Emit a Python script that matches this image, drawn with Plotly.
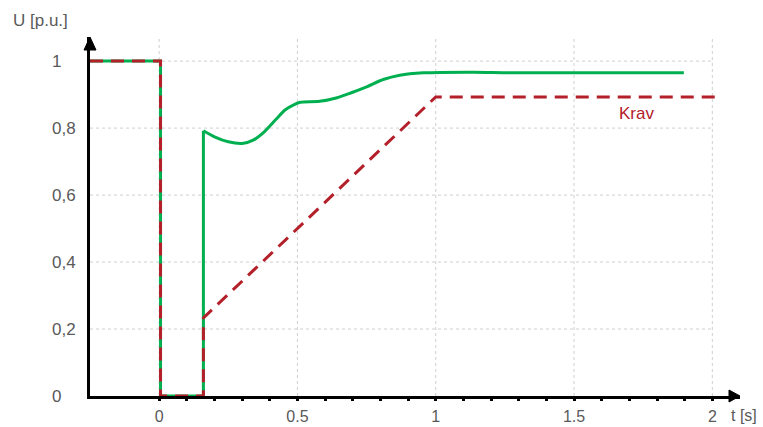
import plotly.graph_objects as go

# ---- data ----
green_step_t = [-0.25, 0.005, 0.005, 0.16, 0.16]
green_step_u = [1.0, 1.0, 0.0, 0.0, 0.792]

green_curve_t = [0.16, 0.2, 0.25, 0.3, 0.34, 0.38, 0.42, 0.455, 0.49, 0.51, 0.58, 0.64,
                 0.69, 0.75, 0.81, 0.87, 0.955, 1.135, 1.28, 1.897]
green_curve_u = [0.792, 0.774, 0.759, 0.754, 0.764, 0.789, 0.824, 0.854, 0.871, 0.877, 0.880, 0.890,
                 0.904, 0.923, 0.945, 0.958, 0.965, 0.967, 0.965, 0.965]

krav_t = [-0.25, 0.005, 0.005, 0.16, 0.16, 1.0, 2.015]
krav_u = [1.0, 1.0, 0.0, 0.0, 0.233, 0.893, 0.893]

x_label_vals = [0, 0.5, 1, 1.5, 2]
x_label_text = ["0", "0.5", "1", "1.5", "2"]
y_label_vals = [0, 0.2, 0.4, 0.6, 0.8, 1]
y_label_text = ["0", "0,2", "0,4", "0,6", "0,8", "1"]

GREEN = "#00B050"
RED = "#B3202A"
GREY_TXT = "#595959"
GRID = "#CFCFCF"
FONT = "Liberation Sans, Arial, sans-serif"
FS = 17

X_MIN, X_MAX = -0.25, 2.1
Y_MIN, Y_MAX = 0.0, 1.072
GRID_X_END = 2.0

fig = go.Figure()

fig.add_trace(go.Scatter(x=green_step_t, y=green_step_u, mode="lines",
                         line=dict(color=GREEN, width=3), showlegend=False, hoverinfo="skip"))
fig.add_trace(go.Scatter(x=green_curve_t, y=green_curve_u, mode="lines",
                         line=dict(color=GREEN, width=3, shape="spline", smoothing=0.8),
                         showlegend=False, hoverinfo="skip"))
fig.add_trace(go.Scatter(x=krav_t, y=krav_u, mode="lines",
                         line=dict(color=RED, width=3, dash="13px,8px"),
                         showlegend=False, hoverinfo="skip"))

shapes = []
# horizontal dotted gridlines (stop at t = 2)
for v in y_label_vals[1:]:
    shapes.append(dict(type="line", xref="x", yref="y", x0=X_MIN, x1=GRID_X_END, y0=v, y1=v,
                       line=dict(color=GRID, width=1, dash="dot"), layer="below"))
# vertical dotted gridlines
for v in x_label_vals:
    shapes.append(dict(type="line", xref="x", yref="paper", x0=v, x1=v, y0=0, y1=1,
                       line=dict(color=GRID, width=1, dash="dot"), layer="below"))
# axis arrow heads
shapes.append(dict(type="path", xref="paper", yref="paper", xsizemode="pixel", ysizemode="pixel",
                   xanchor=0, yanchor=1, path="M -6,-13 L 0,0 L 6,-13 Z",
                   fillcolor="black", line=dict(color="black", width=1), layer="above"))
shapes.append(dict(type="path", xref="paper", yref="paper", xsizemode="pixel", ysizemode="pixel",
                   xanchor=1, yanchor=0, path="M -11,-6 L 0,0 L -11,6 Z",
                   fillcolor="black", line=dict(color="black", width=1), layer="above"))

annotations = []
for v, t in zip(y_label_vals, y_label_text):
    annotations.append(dict(x=0, xref="paper", y=v, yref="y", text=t, showarrow=False,
                            xanchor="left", yanchor="middle", xshift=-40,
                            font=dict(family=FONT, size=FS, color=GREY_TXT)))
annotations.append(dict(x=0, xref="paper", y=1, yref="paper", text="U [p.u.]", showarrow=False,
                        xanchor="left", yanchor="middle", xshift=-79, yshift=17,
                        font=dict(family=FONT, size=FS, color=GREY_TXT)))
annotations.append(dict(x=1, xref="paper", y=0, yref="paper", text="t [s]", showarrow=False,
                        xanchor="left", yanchor="middle", xshift=-11, yshift=-19,
                        font=dict(family=FONT, size=16, color=GREY_TXT)))
annotations.append(dict(x=1.727, y=0.845, xref="x", yref="y", text="Krav", showarrow=False,
                        font=dict(family=FONT, size=FS, color=RED)))

x_tick_vals = [round(i * 0.1, 1) for i in range(0, 21)]
x_tick_text = []
for v in x_tick_vals:
    x_tick_text.append(x_label_text[x_label_vals.index(v)] if v in x_label_vals else "")

fig.update_layout(
    width=763, height=427,
    margin=dict(l=90, r=23, t=37, b=31),
    paper_bgcolor="white", plot_bgcolor="white",
    shapes=shapes, annotations=annotations,
    xaxis=dict(range=[X_MIN, X_MAX], showgrid=False, zeroline=False, automargin=False,
               showline=True, linecolor="black", linewidth=3,
               tickmode="array", tickvals=x_tick_vals, ticktext=x_tick_text,
               ticks="outside", ticklen=2, tickwidth=3, tickcolor="black",
               ticklabelstandoff=2,
               tickfont=dict(family=FONT, size=16, color=GREY_TXT)),
    yaxis=dict(range=[Y_MIN, Y_MAX], showgrid=False, zeroline=False, automargin=False,
               showline=True, linecolor="black", linewidth=3,
               showticklabels=False, ticks=""),
)

fig.write_html("out.html", config={"displayModeBar": False},
               post_script="document.body.style.margin='0';")
